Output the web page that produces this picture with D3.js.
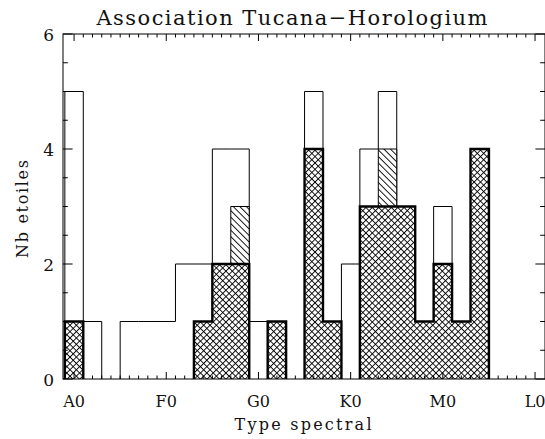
<!DOCTYPE html>
<html>
<head>
<meta charset="utf-8">
<script src="https://cdn.jsdelivr.net/npm/d3@7"></script>
<style>
  html, body { margin: 0; padding: 0; background: #fff; }
  svg { display: block; }
  text { font-family: "DejaVu Serif", "Liberation Serif", serif; fill: #111; }
</style>
</head>
<body>
<svg id="chart" width="545" height="439"></svg>
<script>
// Spectral subtype index: A0=0, F0=10, G0=20, K0=30, M0=40, L0=50; bins are 2 subtypes wide
const binCenters = [0, 2, 4, 6, 8, 10, 12, 14, 16, 18, 20, 22, 24, 26, 28, 30, 32, 34, 36, 38, 40, 42, 44];
// All stars per bin (open outline)
const totalCounts = [5, 1, 0, 1, 1, 1, 2, 2, 4, 4, 1, 1, 0, 5, 1, 2, 4, 5, 3, 1, 3, 1, 4];
// Single-hatched subset
const hatchedCounts = [1, 0, 0, 0, 0, 0, 0, 1, 2, 3, 0, 1, 0, 4, 1, 0, 3, 4, 3, 1, 2, 1, 4];
// Cross-hatched subset
const crossCounts = [1, 0, 0, 0, 0, 0, 0, 1, 2, 2, 0, 1, 0, 4, 1, 0, 3, 3, 3, 1, 2, 1, 4];
const majorTickValues = [0, 10, 20, 30, 40, 50];
const majorTickLabels = ["A0", "F0", "G0", "K0", "M0", "L0"];
const yTickValues = [0, 2, 4, 6];
const binWidth = 2;

(function () {
const svg = d3.select("#chart");
const pl = 63, pr = 545, pt = 34, pb = 379;
const x = d3.scaleLinear().domain([-1.2, 51.08]).range([pl, pr]);
const y = d3.scaleLinear().domain([0, 6]).range([pb, pt]);

const defs = svg.append("defs");
// cross hatch: grid of lines rotated by 45 degrees
const cs = 4.5;
const cross = defs.append("pattern")
  .attr("id", "cross").attr("patternUnits", "userSpaceOnUse")
  .attr("width", cs).attr("height", cs)
  .attr("patternTransform", "rotate(45)");
cross.append("rect").attr("width", cs).attr("height", cs).attr("fill", "#fff");
cross.append("line").attr("x1", 0.5).attr("y1", 0).attr("x2", 0.5).attr("y2", cs)
  .attr("stroke", "#000").attr("stroke-width", 0.9);
cross.append("line").attr("x1", 0).attr("y1", 0.5).attr("x2", cs).attr("y2", 0.5)
  .attr("stroke", "#000").attr("stroke-width", 0.9);
// single hatch, lines descending to the right
const ss = 4.6;
const single = defs.append("pattern")
  .attr("id", "single").attr("patternUnits", "userSpaceOnUse")
  .attr("width", ss).attr("height", ss)
  .attr("patternTransform", "rotate(-45)");
single.append("rect").attr("width", ss).attr("height", ss).attr("fill", "#fff");
single.append("line").attr("x1", 0.5).attr("y1", 0).attr("x2", 0.5).attr("y2", ss)
  .attr("stroke", "#000").attr("stroke-width", 0.9);

// Split a histogram into runs of non-empty bins and build a step outline for each
function stepRuns(counts) {
  const runs = [];
  let cur = null;
  counts.forEach((c, i) => {
    if (c > 0) {
      if (!cur) { cur = []; runs.push(cur); }
      cur.push(i);
    } else cur = null;
  });
  return runs.map(run => {
    const p = d3.path();
    const e0 = binCenters[run[0]] - binWidth / 2;
    p.moveTo(x(e0), y(0));
    run.forEach(i => {
      const a = binCenters[i] - binWidth / 2, b = binCenters[i] + binWidth / 2;
      p.lineTo(x(a), y(counts[i]));
      p.lineTo(x(b), y(counts[i]));
    });
    const eN = binCenters[run[run.length - 1]] + binWidth / 2;
    p.lineTo(x(eN), y(0));
    return p.toString();
  });
}

const g = svg.append("g");
// total outline
g.selectAll("path.total").data(stepRuns(totalCounts)).join("path")
  .attr("class", "total").attr("d", d => d)
  .attr("fill", "none").attr("stroke", "#000").attr("stroke-width", 1);
// single-hatched subset
g.selectAll("path.single").data(stepRuns(hatchedCounts)).join("path")
  .attr("class", "single").attr("d", d => d)
  .attr("fill", "url(#single)").attr("stroke", "#000").attr("stroke-width", 1);
// cross-hatched subset with heavy outline
g.selectAll("path.cross").data(stepRuns(crossCounts)).join("path")
  .attr("class", "cross").attr("d", d => d)
  .attr("fill", "url(#cross)").attr("stroke", "#000").attr("stroke-width", 2.4)
  .attr("stroke-linejoin", "miter");

// frame
svg.append("rect").attr("x", pl).attr("y", pt)
  .attr("width", pr - pl).attr("height", pb - pt)
  .attr("fill", "none").attr("stroke", "#000").attr("stroke-width", 1);

// ticks (inward on all four sides)
const xMinor = d3.range(0, 51, 1);
const yMinor = d3.range(0, 6.01, 0.5);
const xMajLen = 7, xMinLen = 3.5, yMajLen = 9.6, yMinLen = 4.8;
const ticks = svg.append("g").attr("stroke", "#000").attr("stroke-width", 1);
xMinor.forEach(v => {
  const len = v % 10 === 0 ? xMajLen : xMinLen;
  ticks.append("line").attr("x1", x(v)).attr("x2", x(v)).attr("y1", pb).attr("y2", pb - len);
  ticks.append("line").attr("x1", x(v)).attr("x2", x(v)).attr("y1", pt).attr("y2", pt + len);
});
yMinor.forEach(v => {
  const len = v % 2 === 0 ? yMajLen : yMinLen;
  ticks.append("line").attr("x1", pl).attr("x2", pl + len).attr("y1", y(v)).attr("y2", y(v));
  ticks.append("line").attr("x1", pr).attr("x2", pr - len).attr("y1", y(v)).attr("y2", y(v));
});

// tick labels
svg.append("g").selectAll("text").data(majorTickValues).join("text")
  .attr("x", d => x(d)).attr("y", 407).attr("text-anchor", "middle")
  .attr("font-size", 16).text((d, i) => majorTickLabels[i]);
svg.append("g").selectAll("text").data(yTickValues).join("text")
  .attr("x", 54).attr("y", d => y(d) + 7).attr("text-anchor", "end")
  .attr("font-size", 17).text(d => d);

// titles
svg.append("text").attr("x", 292).attr("y", 25).attr("text-anchor", "middle")
  .attr("font-size", 21).attr("textLength", 391).attr("lengthAdjust", "spacing")
  .text("Association Tucana\u2212Horologium");
svg.append("text").attr("x", 303).attr("y", 430).attr("text-anchor", "middle")
  .attr("font-size", 16).attr("textLength", 137).attr("lengthAdjust", "spacing")
  .text("Type spectral");
svg.append("text").attr("transform", "translate(28,209) rotate(-90)")
  .attr("text-anchor", "middle").attr("font-size", 16)
  .attr("textLength", 98).attr("lengthAdjust", "spacing").text("Nb etoiles");
})();
</script>
</body>
</html>
